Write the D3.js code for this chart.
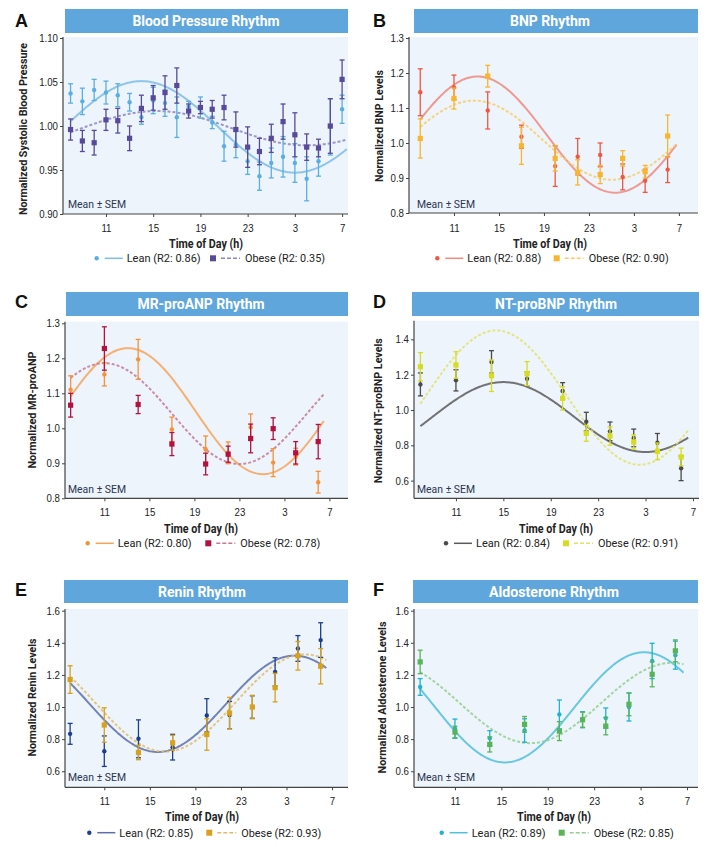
<!DOCTYPE html>
<html><head><meta charset="utf-8">
<script src="https://cdn.jsdelivr.net/npm/d3@7"></script>
<style>
body{margin:0;background:#fff;}
svg{display:block;font-family:Roboto,"DejaVu Sans Condensed",sans-serif;}
</style></head><body>
<svg id="c" width="720" height="847"></svg>
<script>
// ---------- DATA ----------
const bpHours = [8,9,10,11,12,13,14,15,16,17,18,19,20,21,22,23,24,25,26,27,28,29,30,31];
const bpLean = [1.037,1.028,1.041,1.038,1.035,1.027,1.010,1.029,1.026,1.010,1.022,1.021,1.004,0.977,0.979,0.960,0.943,0.958,0.965,0.958,0.940,0.960,0.999,1.019];
const bpLeanSem = [0.011,0.015,0.012,0.013,0.013,0.010,0.008,0.015,0.015,0.023,0.006,0.012,0.007,0.017,0.015,0.015,0.016,0.017,0.023,0.022,0.025,0.017,0.032,0.016];
const bpObese = [0.996,0.983,0.981,1.007,1.006,0.986,1.020,1.032,1.038,1.046,1.017,1.021,1.019,1.021,0.996,0.976,0.971,0.986,1.005,0.990,0.976,0.975,1.000,1.053];
const bpObeseSem = [0.012,0.012,0.014,0.012,0.014,0.014,0.015,0.014,0.019,0.020,0.008,0.007,0.010,0.014,0.020,0.023,0.015,0.016,0.020,0.025,0.015,0.010,0.031,0.022];

const sampleHours = [8,11,14,17,20,22,24,26,28,30];
const bnpLean = [1.145,1.159,1.093,1.018,0.934,0.961,0.966,0.903,0.892,0.924];
const bnpLeanSem = [0.067,0.035,0.053,0.033,0.058,0.052,0.034,0.037,0.033,0.037];
const bnpObese = [1.013,1.127,1.191,0.992,0.956,0.916,0.910,0.956,0.918,1.020];
const bnpObeseSem = [0.056,0.030,0.031,0.053,0.036,0.036,0.026,0.022,0.018,0.060];

const anpLean = [1.110,1.154,1.197,0.997,0.940,0.930,1.003,0.902,0.919,0.846];
const anpLeanSem = [0.040,0.033,0.057,0.035,0.038,0.031,0.038,0.040,0.024,0.031];
const anpObese = [1.066,1.228,1.068,0.955,0.898,0.926,0.971,0.999,0.930,0.962];
const anpObeseSem = [0.034,0.062,0.026,0.033,0.031,0.023,0.041,0.031,0.032,0.049];

const ntLean = [1.145,1.168,1.272,1.177,1.108,0.934,0.879,0.842,0.815,0.670];
const ntLeanSem = [0.065,0.060,0.064,0.040,0.047,0.053,0.053,0.050,0.052,0.070];
const ntObese = [1.245,1.255,1.194,1.206,1.066,0.868,0.853,0.819,0.766,0.734];
const ntObeseSem = [0.080,0.075,0.089,0.068,0.066,0.045,0.052,0.040,0.047,0.050];

const reninLean = [0.833,0.725,0.802,0.750,0.948,0.950,1.000,1.219,1.365,1.417];
const reninLeanSem = [0.065,0.095,0.118,0.080,0.104,0.085,0.070,0.088,0.080,0.108];
const reninObese = [1.171,0.888,0.717,0.777,0.829,0.962,1.000,1.121,1.319,1.254];
const reninObeseSem = [0.086,0.107,0.045,0.047,0.098,0.098,0.073,0.089,0.089,0.110];

const aldoLean = [1.125,0.865,0.806,0.854,0.954,0.921,0.931,1.000,1.287,1.323];
const aldoLeanSem = [0.052,0.060,0.047,0.073,0.090,0.050,0.063,0.087,0.110,0.087];
const aldoObese = [1.281,0.844,0.767,0.892,0.850,0.921,0.881,1.017,1.204,1.350];
const aldoObeseSem = [0.073,0.036,0.047,0.049,0.059,0.047,0.054,0.071,0.078,0.068];

// cosinor fits: [mesor, amplitude, peak hour, period h]
const fitLean = [[0.999,0.052,14.0,26],[1.024,0.166,13.1,24.5],[1.049,0.180,13.1,24],[0.960,0.198,15.0,24],[1.020,0.300,27.7,24],[0.998,0.343,27.3,24]];
const fitObese = [[0.9975,0.0195,15.3,25.4],[1.008,0.113,12.8,24.5],[1.042,0.144,11.0,24],[1.070,0.380,14.4,24.2],[1.025,0.303,28.6,24.5],[1.025,0.250,29.7,24.4]];
const fitEnd = [31.4,30.8,30.5,30.6,30.5,30.7];

const panelLetters = ["A","B","C","D","E","F"];
const titles = ["Blood Pressure Rhythm","BNP Rhythm","MR-proANP Rhythm","NT-proBNP Rhythm","Renin Rhythm","Aldosterone Rhythm"];
const yLabels = ["Normalized Systolic Blood Pressure","Normalized BNP Levels","Normalized MR-proANP","Normalized NT-proBNP Levels","Normalized Renin Levels","Normalized Aldosterone Levels"];
const leanR2 = ["0.86","0.88","0.80","0.84","0.85","0.89"];
const obeseR2 = ["0.35","0.90","0.78","0.91","0.93","0.85"];
const xTickValues = [11,15,19,23,27,31];
const xTickLabels = ["11","15","19","23","3","7"];
const yTicksA = [0.90,0.95,1.00,1.05,1.10];
const yTicksBC = [0.8,0.9,1.0,1.1,1.2,1.3];
const yTicksD = [0.6,0.8,1.0,1.2,1.4];
const yTicksEF = [0.6,0.8,1.0,1.2,1.4,1.6];
const xAxisTitle = "Time of Day (h)";
const meanLabel = "Mean ± SEM";

// ---------- LAYOUT / STYLE ----------
const series = [
  {h:bpHours, l:bpLean, le:bpLeanSem, o:bpObese, oe:bpObeseSem},
  {h:sampleHours, l:bnpLean, le:bnpLeanSem, o:bnpObese, oe:bnpObeseSem},
  {h:sampleHours, l:anpLean, le:anpLeanSem, o:anpObese, oe:anpObeseSem},
  {h:sampleHours, l:ntLean, le:ntLeanSem, o:ntObese, oe:ntObeseSem},
  {h:sampleHours, l:reninLean, le:reninLeanSem, o:reninObese, oe:reninObeseSem},
  {h:sampleHours, l:aldoLean, le:aldoLeanSem, o:aldoObese, oe:aldoObeseSem}
];
const L = [
  {x0:63,x1:348,yTop:37,yBot:214,xDom:[7.36,31.5],yDom:[0.9,1.1],yR:[214,38],ticks:yTicksA,fmt:".2f",cx:206,bY:[9,33],bX:[65,348],let:[15,27],ylx:22.7,yly:129,tickY:227.7,timeY:243.3,legY:258.3,legC:96.7,legS:213,meanX:68,meanY:204,tw:147,yw:172},
  {x0:409,x1:698,yTop:37,yBot:213,xDom:[7.0,32.7],yDom:[0.8,1.3],yR:[213,38],ticks:yTicksBC,fmt:".1f",cx:550,bY:[9,33],bX:[414,698],let:[373,27],ylx:379.3,yly:126,tickY:227.7,timeY:243.3,legY:258.3,legC:437.3,legS:556.7,meanX:417,meanY:204,tw:80,yw:112},
  {x0:65,x1:348,yTop:321.7,yBot:498.3,xDom:[7.5,32.65],yDom:[0.8,1.3],yR:[498.3,323.3],ticks:yTicksBC,fmt:".1f",cx:201,bY:[292,316],bX:[66,348],let:[15,308],ylx:31.7,yly:410,tickY:512.3,timeY:528.3,legY:543.3,legC:87.7,legS:208.3,meanX:68,meanY:489.3,tw:127,yw:117},
  {x0:414,x1:699,yTop:320.7,yBot:498.3,xDom:[7.46,31.51],yDom:[0.5,1.5],yR:[498.3,321.7],ticks:yTicksD,fmt:".1f",cx:556,bY:[292,316],bX:[412,699],let:[373,308],ylx:378.3,yly:410.8,tickY:512.3,timeY:528.3,legY:543.3,legC:446,legS:566,meanX:417,meanY:489.3,tw:122,yw:145},
  {x0:65,x1:348,yTop:609,yBot:787.3,xDom:[7.55,32.4],yDom:[0.5,1.6],yR:[787.3,610.7],ticks:yTicksEF,fmt:".1f",cx:202,bY:[580,603],bX:[64,348],let:[15,596],ylx:31.7,yly:697.5,tickY:800.7,timeY:816.7,legY:832.7,legC:89.3,legS:209.3,meanX:68,meanY:777.7,tw:88,yw:118},
  {x0:414,x1:698,yTop:609,yBot:787.3,xDom:[7.47,31.95],yDom:[0.5,1.6],yR:[787.3,610.7],ticks:yTicksEF,fmt:".1f",cx:554,bY:[580,603],bX:[413,698],let:[373,596],ylx:381.7,yly:697.5,tickY:800.7,timeY:816.7,legY:832.7,legC:441.7,legS:561.7,meanX:417,meanY:777.7,tw:130,yw:152}
];
const colors = [
  {lp:"#5aafe2",lc:"#7dbde8",op:"#584a9a",oc:"#8f86bf"},
  {lp:"#ee5842",lc:"#ef8a7e",op:"#f8b530",oc:"#f7cd6a"},
  {lp:"#f6923a",lc:"#f6a35a",op:"#b3123f",oc:"#c47a93"},
  {lp:"#4a4a4a",lc:"#5a5a5a",op:"#d7dc1f",oc:"#e0e36a"},
  {lp:"#1d3e8d",lc:"#5d6ea9",op:"#d6a11d",oc:"#dfbc6a"},
  {lp:"#1fb2d2",lc:"#4fc0dc",op:"#58b458",oc:"#93cf90"}
];

const fitW = (sel,w)=> sel.attr("textLength",w).attr("lengthAdjust","spacingAndGlyphs");
const squeeze = (sel,k)=> sel.each(function(){ const n=this; const w=n.getComputedTextLength(); d3.select(n).attr("textLength",w*k).attr("lengthAdjust","spacingAndGlyphs"); });

const svg = d3.select("#c");

L.forEach((p,i)=>{
  const g = svg.append("g");
  const c = colors[i], s = series[i];
  const x = d3.scaleLinear().domain(p.xDom).range([p.x0,p.x1]);
  const y = d3.scaleLinear().domain(p.yDom).range(p.yR);

  // panel letter
  g.append("text").attr("x",p.let[0]).attr("y",p.let[1]).text(panelLetters[i])
    .attr("font-family","Liberation Sans, Arial, sans-serif").attr("font-weight","bold").attr("font-size",18).attr("fill","#111");
  // banner
  g.append("rect").attr("x",p.bX[0]).attr("y",p.bY[0]).attr("width",p.bX[1]-p.bX[0]).attr("height",p.bY[1]-p.bY[0]).attr("fill","#5ea6dc");
  g.append("text").attr("x",p.cx).attr("y",(p.bY[0]+p.bY[1])/2).attr("dy","0.36em").attr("text-anchor","middle")
    .attr("fill","#fff").attr("font-weight","bold").attr("font-size",14.5).text(titles[i]).call(fitW,p.tw);
  // plot bg
  g.append("rect").attr("x",p.x0).attr("y",p.yTop).attr("width",p.x1-p.x0).attr("height",p.yBot-p.yTop).attr("fill","#eef4fb");

  // y axis
  const ya = g.append("g").attr("transform",`translate(${p.x0},0)`)
    .call(d3.axisLeft(y).tickValues(p.ticks).tickFormat(d3.format(p.fmt)).tickSize(3).tickPadding(2));
  ya.select(".domain").remove();
  ya.selectAll("line").attr("stroke","#444");
  ya.selectAll("text").attr("font-size",11).attr("fill","#222").attr("font-family",null).call(squeeze,0.88);
  g.append("line").attr("x1",p.x0).attr("x2",p.x0).attr("y1",p.yTop).attr("y2",p.yBot).attr("stroke","#444").attr("stroke-width",1.2);

  // x axis
  const xa = g.append("g").attr("transform",`translate(0,${p.yBot})`)
    .call(d3.axisBottom(x).tickValues(xTickValues).tickFormat((d,k)=>xTickLabels[k]).tickSize(3).tickPadding(3));
  xa.select(".domain").remove();
  xa.selectAll("line").attr("stroke","#444");
  xa.selectAll("text").attr("font-size",11).attr("fill","#222").attr("font-family",null)
    .attr("y",p.tickY-p.yBot).attr("dy","0.35em").call(squeeze,0.88);
  g.append("line").attr("x1",p.x0).attr("x2",p.x1).attr("y1",p.yBot).attr("y2",p.yBot).attr("stroke","#444").attr("stroke-width",1.2);

  // axis titles
  g.append("text").attr("transform",`translate(${p.ylx},${p.yly}) rotate(-90)`).attr("text-anchor","middle").attr("dy","0.35em")
    .attr("font-weight","bold").attr("font-size",11).attr("fill","#222").text(yLabels[i]).call(fitW,p.yw);
  g.append("text").attr("x",p.cx).attr("y",p.timeY).attr("dy","0.35em").attr("text-anchor","middle")
    .attr("font-weight","bold").attr("font-size",12).attr("fill","#222").text(xAxisTitle).call(fitW,74);
  g.append("text").attr("x",p.meanX).attr("y",p.meanY).attr("dy","0.35em")
    .attr("font-size",10.5).attr("fill","#2a3550").text(meanLabel).call(fitW,58);

  // fit curves (cosinor model from parameters)
  const cos = (f,h)=> f[0] + f[1]*Math.cos(2*Math.PI*(h-f[2])/f[3]);
  const hs = d3.range(8, fitEnd[i]+0.001, 0.1);
  const line = d3.line().x(h=>x(h)).curve(d3.curveLinear);
  g.append("path").attr("d",line.y(h=>y(cos(fitLean[i],h)))(hs)).attr("fill","none")
    .attr("stroke",c.lc).attr("stroke-width",2).attr("stroke-opacity",0.85);
  g.append("path").attr("d",line.y(h=>y(cos(fitObese[i],h)))(hs)).attr("fill","none")
    .attr("stroke",c.oc).attr("stroke-width",2).attr("stroke-dasharray","3,2").attr("stroke-opacity",0.85);

  // points with error bars
  const drawSet = (vals, errs, col, shape)=>{
    const data = s.h.map((h,k)=>({h, v:vals[k], e:errs[k]}));
    const eg = g.append("g").attr("stroke",col).attr("stroke-width",1.3);
    eg.selectAll("line.v").data(data).join("line").attr("x1",d=>x(d.h)).attr("x2",d=>x(d.h))
      .attr("y1",d=>y(d.v-d.e)).attr("y2",d=>y(d.v+d.e));
    eg.selectAll("line.t").data(data).join("line").attr("x1",d=>x(d.h)-2.5).attr("x2",d=>x(d.h)+2.5)
      .attr("y1",d=>y(d.v+d.e)).attr("y2",d=>y(d.v+d.e));
    eg.selectAll("line.b").data(data).join("line").attr("x1",d=>x(d.h)-2.5).attr("x2",d=>x(d.h)+2.5)
      .attr("y1",d=>y(d.v-d.e)).attr("y2",d=>y(d.v-d.e));
    if(shape==="c"){
      g.append("g").selectAll("circle").data(data).join("circle").attr("cx",d=>x(d.h)).attr("cy",d=>y(d.v)).attr("r",2.2).attr("fill",col);
    } else {
      g.append("g").selectAll("rect").data(data).join("rect").attr("x",d=>x(d.h)-2.6).attr("y",d=>y(d.v)-2.6).attr("width",5.2).attr("height",5.2).attr("fill",col);
    }
  };
  drawSet(s.l, s.le, c.lp, "c");
  drawSet(s.o, s.oe, c.op, "s");

  // legend
  const ly = p.legY;
  g.append("circle").attr("cx",p.legC).attr("cy",ly).attr("r",2.2).attr("fill",c.lp);
  g.append("line").attr("x1",p.legC+8).attr("x2",p.legC+26).attr("y1",ly).attr("y2",ly).attr("stroke",c.lc).attr("stroke-width",1.5);
  g.append("text").attr("x",p.legC+30).attr("y",ly).attr("dy","0.35em").attr("font-size",11.5).attr("fill","#222").text(`Lean (R2: ${leanR2[i]})`).call(fitW,74);
  g.append("rect").attr("x",p.legS-3).attr("y",ly-3).attr("width",6).attr("height",6).attr("fill",c.op);
  g.append("line").attr("x1",p.legS+8).attr("x2",p.legS+27).attr("y1",ly).attr("y2",ly).attr("stroke",c.oc).attr("stroke-width",1.5).attr("stroke-dasharray","4,2");
  g.append("text").attr("x",p.legS+32).attr("y",ly).attr("dy","0.35em").attr("font-size",11.5).attr("fill","#222").text(`Obese (R2: ${obeseR2[i]})`).call(fitW,80);
});
</script>
</body></html>
